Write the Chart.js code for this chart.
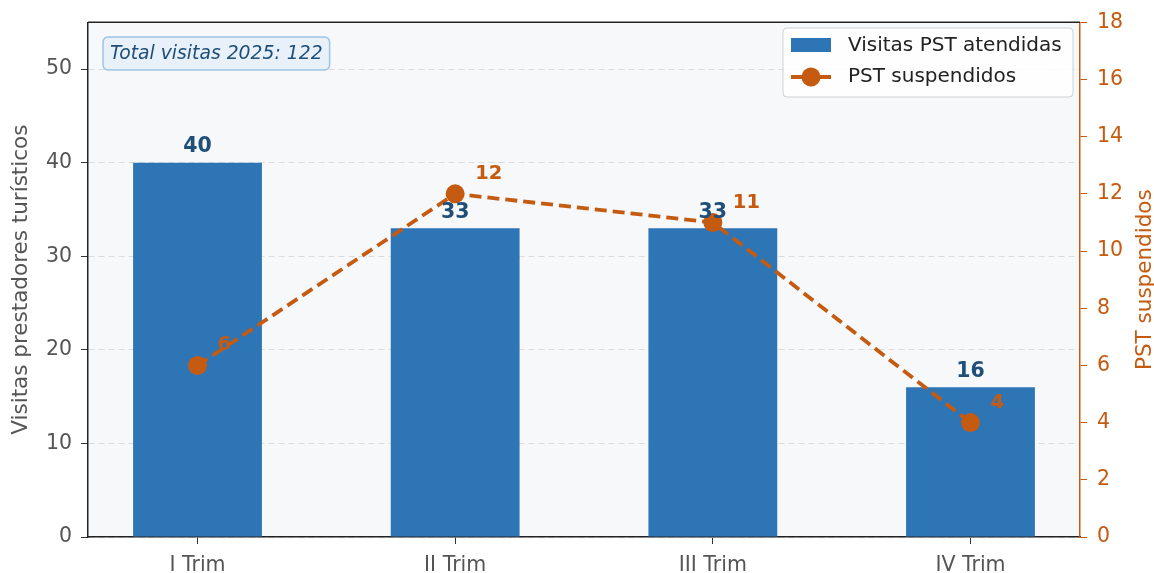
<!DOCTYPE html>
<html>
<head>
<meta charset="utf-8">
<script src="https://cdn.jsdelivr.net/npm/chart.js@4"></script>
<style>
  html, body { margin: 0; padding: 0; background: #fff; }
  #wrap { width: 1154px; height: 573px; }
</style>
</head>
<body>
<div id="wrap"><canvas id="c" width="1154" height="573"></canvas></div>
<script>
const quarters = ['I Trim', 'II Trim', 'III Trim', 'IV Trim'];
const visitas = [40, 33, 33, 16];
const suspendidos = [6, 12, 11, 4];
const totalLabel = 'Total visitas 2025: 122';

const BLUE = '#2e75b6';
const DARKBLUE = '#1f4e79';
const ORANGE = '#c55a11';
const GRAY = '#555555';
const FONT = "'DejaVu Sans', sans-serif";

// plot background, spine on top, labels, legend and note box
const decor = {
  id: 'decor',
  beforeDraw(chart) {
    const a = chart.chartArea, ctx = chart.ctx;
    ctx.save();
    ctx.fillStyle = '#f7f8fa';
    ctx.fillRect(a.left, a.top, a.right - a.left, a.bottom - a.top);
    ctx.restore();
  },
  afterDraw(chart) {
    const a = chart.chartArea, ctx = chart.ctx;
    ctx.save();
    // top spine
    ctx.strokeStyle = '#222';
    ctx.lineWidth = 1.5;
    ctx.beginPath();
    ctx.moveTo(a.left, a.top);
    ctx.lineTo(a.right, a.top);
    ctx.stroke();

    // bar values
    const bars = chart.getDatasetMeta(0).data;
    ctx.font = 'bold 20.5px ' + FONT;
    ctx.fillStyle = DARKBLUE;
    ctx.textAlign = 'center';
    ctx.textBaseline = 'middle';
    bars.forEach((b, i) => ctx.fillText(visitas[i], b.x, b.y - 16));

    // point values
    const pts = chart.getDatasetMeta(1).data;
    ctx.font = 'bold 19.5px ' + FONT;
    ctx.fillStyle = ORANGE;
    ctx.textAlign = 'left';
    pts.forEach((p, i) => ctx.fillText(suspendidos[i], p.x + 20, p.y - 20));

    // note box
    ctx.font = 'italic 18.8px ' + FONT;
    const tw = ctx.measureText(totalLabel).width;
    const bx = a.left + 15, by = 37, bw = tw + 14, bh = 33;
    ctx.beginPath();
    ctx.roundRect(bx, by, bw, bh, 5);
    ctx.fillStyle = '#e8f1fa';
    ctx.fill();
    ctx.strokeStyle = '#9dc3e6';
    ctx.lineWidth = 1.5;
    ctx.stroke();
    ctx.fillStyle = DARKBLUE;
    ctx.textBaseline = 'middle';
    ctx.fillText(totalLabel, bx + 7, by + bh / 2 + 1);

    // legend
    const lx = 783, ly = 28, lw = 290, lh = 69;
    ctx.beginPath();
    ctx.roundRect(lx, ly, lw, lh, 4);
    ctx.fillStyle = 'rgba(255,255,255,0.85)';
    ctx.fill();
    ctx.strokeStyle = '#d0d0d0';
    ctx.lineWidth = 1;
    ctx.stroke();
    ctx.fillStyle = BLUE;
    ctx.fillRect(lx + 8, ly + 10, 40, 14);
    ctx.strokeStyle = ORANGE;
    ctx.lineWidth = 3.8;
    ctx.beginPath();
    ctx.moveTo(lx + 8, ly + 49);
    ctx.lineTo(lx + 48, ly + 49);
    ctx.stroke();
    ctx.fillStyle = ORANGE;
    ctx.beginPath();
    ctx.arc(lx + 28, ly + 49, 9.5, 0, Math.PI * 2);
    ctx.fill();
    ctx.font = '20px ' + FONT;
    ctx.fillStyle = '#222';
    ctx.fillText(chart.data.datasets[0].label, lx + 65, ly + 18);
    ctx.fillText(chart.data.datasets[1].label, lx + 65, ly + 49);

    // right axis title (reads bottom to top)
    ctx.translate(1145, (a.top + a.bottom) / 2);
    ctx.rotate(-Math.PI / 2);
    ctx.textAlign = 'center';
    ctx.font = '21.5px ' + FONT;
    ctx.fillStyle = ORANGE;
    ctx.fillText('PST suspendidos', 0, 0);
    ctx.restore();
  }
};

new Chart(document.getElementById('c'), {
  type: 'bar',
  data: {
    datasets: [{
      label: 'Visitas PST atendidas',
      data: visitas.map((v, i) => ({ x: i, y: v })),
      backgroundColor: BLUE,
      barPercentage: 0.5,
      categoryPercentage: 1,
      yAxisID: 'y',
      order: 2
    }, {
      type: 'line',
      label: 'PST suspendidos',
      data: suspendidos.map((v, i) => ({ x: i, y: v })),
      borderColor: ORANGE,
      backgroundColor: ORANGE,
      borderWidth: 3.8,
      borderDash: [12, 6],
      pointRadius: 9.5,
      pointBorderWidth: 0,
      yAxisID: 'y1',
      order: 1
    }]
  },
  options: {
    responsive: false,
    animation: false,
    layout: { padding: { top: 17, left: 0, right: 0, bottom: 0 } },
    plugins: { legend: { display: false }, tooltip: { enabled: false } },
    scales: {
      x: {
        type: 'linear',
        min: -0.425,
        max: 3.425,
        offset: false,
        grid: { offset: false, drawOnChartArea: false, tickLength: 7, tickColor: '#333', tickWidth: 1 },
        border: { color: '#222', width: 1.5 },
        ticks: {
          stepSize: 1,
          includeBounds: false,
          autoSkip: false,
          maxRotation: 0,
          padding: 9,
          color: GRAY,
          font: { family: FONT, size: 20.5 },
          callback: v => quarters[v] ?? ''
        },
        afterFit(s) { s.height = 36; }
      },
      y: {
        position: 'left',
        min: 0,
        max: 55,
        grid: { color: '#dcdcdc', lineWidth: 1, tickLength: 7, tickColor: '#333', tickBorderDash: [] },
        border: { color: '#222', width: 1.5, dash: [6, 4] },
        ticks: { stepSize: 10, includeBounds: false, padding: 9, color: GRAY, font: { family: FONT, size: 20.5 } },
        title: { display: true, text: 'Visitas prestadores turísticos', color: GRAY, font: { family: FONT, size: 21.5 }, padding: { top: 9, bottom: 0 } },
        afterFit(s) { s.width = 88; }
      },
      y1: {
        position: 'right',
        min: 0,
        max: 18,
        grid: { drawOnChartArea: false, tickLength: 7, tickColor: ORANGE },
        border: { color: ORANGE, width: 1.5 },
        ticks: { stepSize: 2, padding: 10, color: ORANGE, font: { family: FONT, size: 20.5 } },
        afterFit(s) { s.width = 74; }
      }
    }
  },
  plugins: [decor]
});
</script>
</body>
</html>
